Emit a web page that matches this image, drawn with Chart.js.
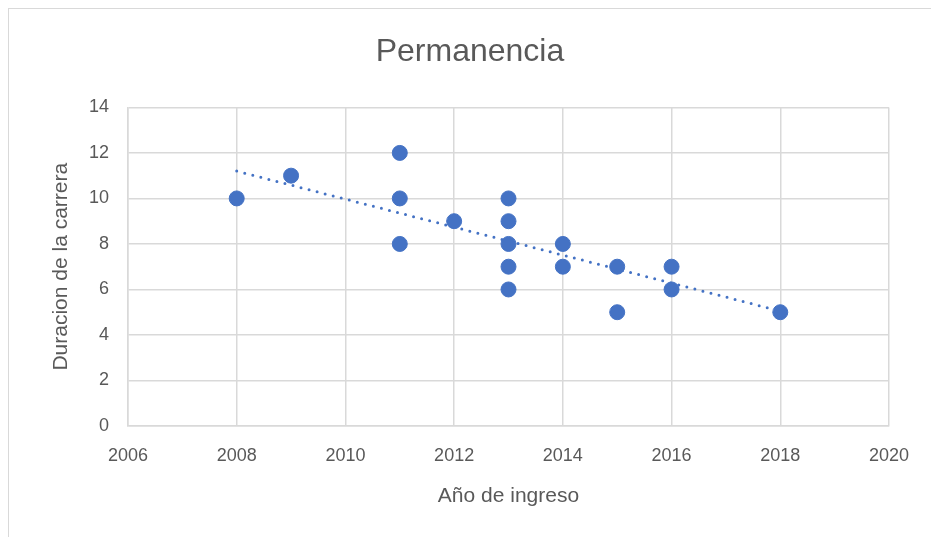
<!DOCTYPE html>
<html>
<head>
<meta charset="utf-8">
<script src="https://cdn.jsdelivr.net/npm/chart.js@4.4.1/dist/chart.umd.min.js"></script>
<style>
  html, body { margin: 0; padding: 0; background: #fff; }
  #marco {
    position: absolute; left: 8px; top: 8px; width: 923px; height: 529px;
    border-left: 1px solid #d9d9d9; border-top: 1px solid #d9d9d9;
  }
  #grafico { display: block; }
</style>
</head>
<body>
<div id="marco"><canvas id="grafico" width="922" height="528"></canvas></div>
<script>
// años de ingreso y duración de la carrera de cada alumno
const anios    = [2008, 2009, 2011, 2011, 2011, 2012, 2013, 2013, 2013, 2013, 2013, 2014, 2014, 2015, 2015, 2016, 2016, 2018];
const duracion = [10,   11,   12,   10,   8,    9,    10,   9,    8,    7,    6,    8,    7,    7,    5,    7,    6,    5];

// línea de tendencia (extremos)
const tendenciaX = [2008, 2018];
const tendenciaY = [11.2, 5.05];

const ticksX = [2006, 2008, 2010, 2012, 2014, 2016, 2018, 2020];

const puntos = anios.map((a, i) => ({ x: a, y: duracion[i] }));
const tendencia = tendenciaX.map((a, i) => ({ x: a, y: tendenciaY[i] }));

const fuente = "'Liberation Sans Narrow', 'Liberation Sans', sans-serif";
const gris = '#595959';

new Chart(document.getElementById('grafico'), {
  type: 'scatter',
  data: {
    datasets: [{
      label: 'Duracion',
      data: puntos,
      backgroundColor: '#4472C4',
      borderColor: '#4472C4',
      pointRadius: 7.5,
      pointHoverRadius: 7.5,
      order: 1
    }, {
      type: 'line',
      label: 'Tendencia',
      data: tendencia,
      borderColor: '#4472C4',
      borderWidth: 3,
      borderDash: [0, 8.3],
      borderCapStyle: 'round',
      pointRadius: 0,
      fill: false,
      order: 2
    }]
  },
  options: {
    responsive: false,
    animation: false,
    layout: { padding: 0 },
    plugins: {
      legend: { display: false },
      tooltip: { enabled: false },
      title: {
        display: true,
        text: 'Permanencia',
        color: gris,
        font: { family: fuente, size: 32, weight: 'normal' },
        padding: { top: 24, bottom: 36 }
      }
    },
    scales: {
      x: {
        type: 'linear',
        min: 2006,
        max: 2020,
        afterBuildTicks: s => { s.ticks = ticksX.map(v => ({ value: v })); },
        afterFit: s => { s.height = 111; },
        grid: { color: '#d9d9d9', lineWidth: 1.5, drawTicks: false },
        border: { color: '#d9d9d9', width: 1.5 },
        ticks: {
          color: gris,
          font: { family: fuente, size: 18 },
          padding: 19,
          maxRotation: 0,
          callback: v => String(v)
        },
        title: {
          display: true,
          text: 'Año de ingreso',
          color: gris,
          font: { family: fuente, size: 21 },
          padding: { top: 0, bottom: 28 }
        }
      },
      y: {
        min: 0,
        max: 14,
        ticks: {
          stepSize: 2,
          color: gris,
          font: { family: fuente, size: 18 },
          padding: 19
        },
        afterFit: s => { s.width = 119; },
        grid: { color: '#d9d9d9', lineWidth: 1.5, drawTicks: false },
        border: { color: '#d9d9d9', width: 1.5 },
        title: {
          display: true,
          text: 'Duracion de la carrera',
          color: gris,
          font: { family: fuente, size: 21 },
          padding: { top: 40, bottom: 0 }
        }
      },
      // margen derecho vacío
      margen: {
        type: 'linear',
        position: 'right',
        display: true,
        grid: { display: false, drawTicks: false },
        border: { display: false },
        ticks: { display: false },
        afterFit: s => { s.width = 42; }
      }
    }
  }
});
</script>
</body>
</html>
